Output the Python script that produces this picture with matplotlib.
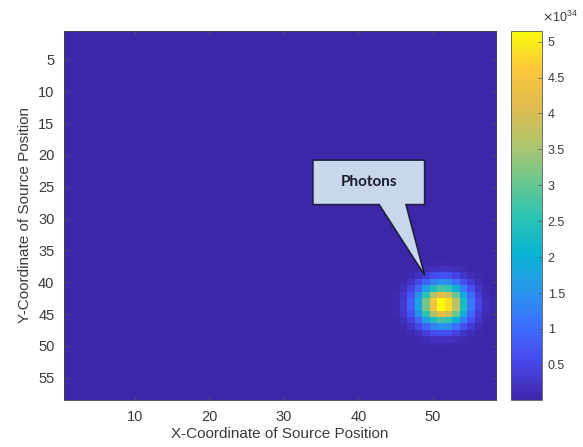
import numpy as np
import matplotlib
matplotlib.use('Agg')
import matplotlib.pyplot as pyplot
from matplotlib.colors import LinearSegmentedColormap
from matplotlib.patches import Polygon

# Chart data (photon counts, in units of 10^34)
GRID_SIZE = 58
BACKGROUND = 0.01
SCALE_EXP = 34
SPOT_ROWS = list(range(37, 51))
SPOT_COLS = list(range(44, 59))
SPOT_VALUES = [
    [0.00, 0.00, 0.00, 0.01, 0.02, 0.04, 0.06, 0.07, 0.06, 0.05, 0.03, 0.02, 0.01, 0.00, 0.00],
    [0.00, 0.00, 0.01, 0.04, 0.08, 0.14, 0.20, 0.23, 0.22, 0.17, 0.10, 0.05, 0.02, 0.01, 0.00],
    [0.00, 0.01, 0.04, 0.11, 0.23, 0.40, 0.57, 0.65, 0.62, 0.47, 0.29, 0.15, 0.06, 0.02, 0.01],
    [0.01, 0.03, 0.09, 0.24, 0.52, 0.91, 1.29, 1.49, 1.40, 1.07, 0.67, 0.34, 0.14, 0.05, 0.01],
    [0.01, 0.05, 0.17, 0.45, 0.96, 1.69, 2.39, 2.77, 2.60, 1.99, 1.24, 0.63, 0.26, 0.09, 0.02],
    [0.02, 0.08, 0.26, 0.68, 1.46, 2.55, 3.62, 4.19, 3.93, 3.01, 1.87, 0.95, 0.39, 0.13, 0.04],
    [0.02, 0.10, 0.32, 0.84, 1.79, 3.14, 4.45, 5.15, 4.84, 3.70, 2.30, 1.16, 0.48, 0.16, 0.04],
    [0.02, 0.10, 0.32, 0.84, 1.79, 3.14, 4.45, 5.15, 4.84, 3.70, 2.30, 1.16, 0.48, 0.16, 0.04],
    [0.02, 0.08, 0.26, 0.68, 1.46, 2.55, 3.62, 4.19, 3.93, 3.01, 1.87, 0.95, 0.39, 0.13, 0.04],
    [0.01, 0.05, 0.17, 0.45, 0.96, 1.69, 2.39, 2.77, 2.60, 1.99, 1.24, 0.63, 0.26, 0.09, 0.02],
    [0.01, 0.03, 0.09, 0.24, 0.52, 0.91, 1.29, 1.49, 1.40, 1.07, 0.67, 0.34, 0.14, 0.05, 0.01],
    [0.00, 0.01, 0.04, 0.11, 0.23, 0.40, 0.57, 0.65, 0.62, 0.47, 0.29, 0.15, 0.06, 0.02, 0.01],
    [0.00, 0.00, 0.01, 0.04, 0.08, 0.14, 0.20, 0.23, 0.22, 0.17, 0.10, 0.05, 0.02, 0.01, 0.00],
    [0.00, 0.00, 0.00, 0.01, 0.02, 0.04, 0.06, 0.07, 0.06, 0.05, 0.03, 0.02, 0.01, 0.00, 0.00],
]
X_TICKS = [10, 20, 30, 40, 50]
Y_TICKS = [5, 10, 15, 20, 25, 30, 35, 40, 45, 50, 55]
CBAR_TICKS = [0.5, 1, 1.5, 2, 2.5, 3, 3.5, 4, 4.5, 5]
CALLOUT_TEXT = 'Photons'

# MATLAB parula, sampled
PARULA = ['#3e26a8', '#4747eb', '#3e6ffe', '#2797eb', '#08b5d0', '#2ec4b3',
          '#70c78b', '#b4c46a', '#e1bc4f', '#fdc839', '#f9fb0e']

pyplot.rcParams['font.family'] = ['Liberation Sans', 'DejaVu Sans']
text_color = '#3a3a3a'

grid = np.full((GRID_SIZE, GRID_SIZE), BACKGROUND)
spot = np.maximum(np.array(SPOT_VALUES), BACKGROUND)
grid[SPOT_ROWS[0] - 1:SPOT_ROWS[-1], SPOT_COLS[0] - 1:SPOT_COLS[-1]] = spot

cmap = LinearSegmentedColormap.from_list('parula', PARULA, N=256)

fig = pyplot.figure(figsize=(5.83, 4.47), dpi=100)
ax = fig.add_axes([0.110, 0.105, 0.741, 0.826])
image = ax.imshow(grid, cmap=cmap, aspect='auto', interpolation='nearest',
                  extent=(0.5, GRID_SIZE + 0.5, GRID_SIZE + 0.5, 0.5))

ax.set_xticks(X_TICKS)
ax.set_yticks(Y_TICKS)
ax.tick_params(axis='both', which='both', direction='in', length=3, width=0.5,
               top=True, right=True, labelsize=10.5, labelcolor=text_color,
               color='#555555', pad=7)
for spine in ax.spines.values():
    spine.set_color('#444444')
    spine.set_linewidth(0.6)
ax.set_xlabel('X-Coordinate of Source Position', fontsize=11, color=text_color, labelpad=2)
ax.set_ylabel('Y-Coordinate of Source Position', fontsize=11, color=text_color, labelpad=4)

# Speech-bubble callout
bubble = [(33.9, 20.8), (48.9, 20.8), (48.9, 27.8), (46.4, 27.8), (48.9, 38.9),
          (42.8, 27.8), (33.9, 27.8)]
ax.add_patch(Polygon(bubble, closed=True, facecolor='#c9d7ec', edgecolor='#1c2142',
                     linewidth=1.2, zorder=3))
ax.text(41.4, 24.2, CALLOUT_TEXT, ha='center', va='center', fontsize=11,
        fontweight='bold', family='Lato', color='#1a1c2a', zorder=4)

# Colorbar
cax = fig.add_axes([0.876, 0.105, 0.054, 0.826])
cbar = fig.colorbar(image, cax=cax, ticks=CBAR_TICKS)
cbar.ax.set_yticklabels(['%g' % t for t in CBAR_TICKS])
cbar.ax.tick_params(direction='in', length=3, width=0.5, labelsize=9,
                    labelcolor=text_color, color='#555555', pad=4)
cbar.outline.set_edgecolor('#555555')
cbar.outline.set_linewidth(0.6)
cbar.ax.text(1.0, 1.015, r'$\times\mathregular{10^{%d}}$' % SCALE_EXP,
             transform=cbar.ax.transAxes, ha='left', va='bottom', fontsize=9,
             color=text_color)

fig.savefig('out.png', dpi=100)
pyplot.close(fig)
